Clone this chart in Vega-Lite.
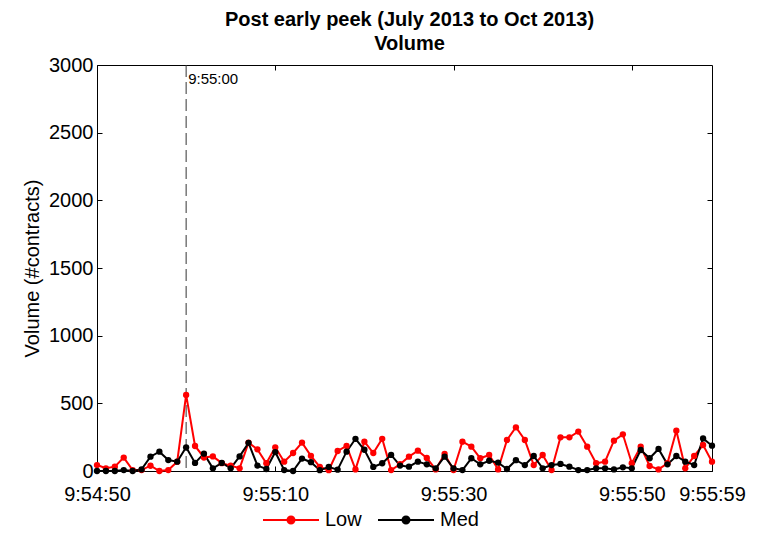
{
  "$schema": "https://vega.github.io/schema/vega-lite/v6.json",
  "width": 615,
  "height": 406,
  "autosize": "none",
  "padding": {"left": 97, "top": 65, "right": 47, "bottom": 62},
  "config": {
    "font": "Liberation Sans",
    "view": {"stroke": "black", "strokeWidth": 1},
    "axis": {"grid": false, "domainColor": "black", "tickColor": "black", "labelColor": "black", "titleColor": "black", "labelFontSize": 20, "titleFontSize": 20, "titleFontWeight": "normal"}
  },
  "title": {"text": ["Post early peek (July 2013 to Oct 2013)", "Volume"], "fontSize": 20, "fontWeight": "bold", "color": "black", "offset": 1, "lineHeight": 24, "anchor": "middle", "dx": 5},
  "datasets": {
    "vol": [
      {"t": "2013-07-01T09:54:50", "Low": 44, "Med": 0},
      {"t": "2013-07-01T09:54:51", "Low": 20, "Med": 0},
      {"t": "2013-07-01T09:54:52", "Low": 32, "Med": 0},
      {"t": "2013-07-01T09:54:53", "Low": 99, "Med": 7},
      {"t": "2013-07-01T09:54:54", "Low": 7, "Med": 0},
      {"t": "2013-07-01T09:54:55", "Low": 7, "Med": 12},
      {"t": "2013-07-01T09:54:56", "Low": 39, "Med": 106},
      {"t": "2013-07-01T09:54:57", "Low": 0, "Med": 143},
      {"t": "2013-07-01T09:54:58", "Low": 7, "Med": 81},
      {"t": "2013-07-01T09:54:59", "Low": 69, "Med": 69},
      {"t": "2013-07-01T09:55:00", "Low": 562, "Med": 175},
      {"t": "2013-07-01T09:55:01", "Low": 185, "Med": 60},
      {"t": "2013-07-01T09:55:02", "Low": 100, "Med": 128},
      {"t": "2013-07-01T09:55:03", "Low": 108, "Med": 20},
      {"t": "2013-07-01T09:55:04", "Low": 58, "Med": 60},
      {"t": "2013-07-01T09:55:05", "Low": 40, "Med": 20},
      {"t": "2013-07-01T09:55:06", "Low": 20, "Med": 108},
      {"t": "2013-07-01T09:55:07", "Low": 210, "Med": 208},
      {"t": "2013-07-01T09:55:08", "Low": 160, "Med": 40},
      {"t": "2013-07-01T09:55:09", "Low": 57, "Med": 15},
      {"t": "2013-07-01T09:55:10", "Low": 175, "Med": 140},
      {"t": "2013-07-01T09:55:11", "Low": 69, "Med": 7},
      {"t": "2013-07-01T09:55:12", "Low": 133, "Med": 0},
      {"t": "2013-07-01T09:55:13", "Low": 210, "Med": 92},
      {"t": "2013-07-01T09:55:14", "Low": 112, "Med": 65},
      {"t": "2013-07-01T09:55:15", "Low": 30, "Med": 6},
      {"t": "2013-07-01T09:55:16", "Low": 6, "Med": 30},
      {"t": "2013-07-01T09:55:17", "Low": 148, "Med": 10},
      {"t": "2013-07-01T09:55:18", "Low": 185, "Med": 143},
      {"t": "2013-07-01T09:55:19", "Low": 12, "Med": 238},
      {"t": "2013-07-01T09:55:20", "Low": 217, "Med": 157},
      {"t": "2013-07-01T09:55:21", "Low": 133, "Med": 30},
      {"t": "2013-07-01T09:55:22", "Low": 238, "Med": 57},
      {"t": "2013-07-01T09:55:23", "Low": 7, "Med": 119},
      {"t": "2013-07-01T09:55:24", "Low": 50, "Med": 40},
      {"t": "2013-07-01T09:55:25", "Low": 106, "Med": 32},
      {"t": "2013-07-01T09:55:26", "Low": 150, "Med": 69},
      {"t": "2013-07-01T09:55:27", "Low": 96, "Med": 49},
      {"t": "2013-07-01T09:55:28", "Low": 12, "Med": 20},
      {"t": "2013-07-01T09:55:29", "Low": 126, "Med": 106},
      {"t": "2013-07-01T09:55:30", "Low": 7, "Med": 20},
      {"t": "2013-07-01T09:55:31", "Low": 217, "Med": 7},
      {"t": "2013-07-01T09:55:32", "Low": 180, "Med": 94},
      {"t": "2013-07-01T09:55:33", "Low": 94, "Med": 49},
      {"t": "2013-07-01T09:55:34", "Low": 118, "Med": 76},
      {"t": "2013-07-01T09:55:35", "Low": 12, "Med": 62},
      {"t": "2013-07-01T09:55:36", "Low": 229, "Med": 15},
      {"t": "2013-07-01T09:55:37", "Low": 323, "Med": 80},
      {"t": "2013-07-01T09:55:38", "Low": 229, "Med": 44},
      {"t": "2013-07-01T09:55:39", "Low": 44, "Med": 111},
      {"t": "2013-07-01T09:55:40", "Low": 118, "Med": 20},
      {"t": "2013-07-01T09:55:41", "Low": 7, "Med": 44},
      {"t": "2013-07-01T09:55:42", "Low": 249, "Med": 52},
      {"t": "2013-07-01T09:55:43", "Low": 249, "Med": 32},
      {"t": "2013-07-01T09:55:44", "Low": 291, "Med": 7},
      {"t": "2013-07-01T09:55:45", "Low": 180, "Med": 7},
      {"t": "2013-07-01T09:55:46", "Low": 57, "Med": 20},
      {"t": "2013-07-01T09:55:47", "Low": 69, "Med": 20},
      {"t": "2013-07-01T09:55:48", "Low": 224, "Med": 12},
      {"t": "2013-07-01T09:55:49", "Low": 271, "Med": 27},
      {"t": "2013-07-01T09:55:50", "Low": 57, "Med": 20},
      {"t": "2013-07-01T09:55:51", "Low": 180, "Med": 155},
      {"t": "2013-07-01T09:55:52", "Low": 37, "Med": 94},
      {"t": "2013-07-01T09:55:53", "Low": 12, "Med": 163},
      {"t": "2013-07-01T09:55:54", "Low": 57, "Med": 49},
      {"t": "2013-07-01T09:55:55", "Low": 298, "Med": 111},
      {"t": "2013-07-01T09:55:56", "Low": 20, "Med": 69},
      {"t": "2013-07-01T09:55:57", "Low": 111, "Med": 44},
      {"t": "2013-07-01T09:55:58", "Low": 192, "Med": 241},
      {"t": "2013-07-01T09:55:59", "Low": 69, "Med": 187}
    ],
    "marker": [{"t": "2013-07-01T09:55:00", "label": "9:55:00"}]
  },
  "resolve": {"axis": {"x": "independent", "y": "independent"}},
  "layer": [
    {
      "data": {"name": "marker"},
      "mark": {"type": "rule", "strokeDash": [12, 5], "color": "#333333", "strokeWidth": 1},
      "encoding": {
        "x": {"field": "t", "type": "temporal",
          "scale": {"domain": [{"year": 2013, "month": 7, "date": 1, "hours": 9, "minutes": 54, "seconds": 50}, {"year": 2013, "month": 7, "date": 1, "hours": 9, "minutes": 55, "seconds": 59}], "nice": false},
          "axis": {"orient": "top", "labels": false, "title": null, "tickSize": -5, "domain": false,
            "values": [{"year": 2013, "month": 7, "date": 1, "hours": 9, "minutes": 55, "seconds": 10}, {"year": 2013, "month": 7, "date": 1, "hours": 9, "minutes": 55, "seconds": 30}, {"year": 2013, "month": 7, "date": 1, "hours": 9, "minutes": 55, "seconds": 50}]}}
      }
    },
    {
      "data": {"name": "marker"},
      "mark": {"type": "text", "align": "left", "baseline": "middle", "dx": 2, "fontSize": 15, "color": "black"},
      "encoding": {
        "x": {"field": "t", "type": "temporal", "axis": null},
        "y": {"datum": 2900, "type": "quantitative", "axis": {"orient": "right", "labels": false, "title": null, "tickSize": -5, "domain": false, "values": [500, 1000, 1500, 2000, 2500]}},
        "text": {"field": "label"}
      }
    },
    {
      "data": {"name": "vol"},
      "transform": [{"fold": ["Low", "Med"], "as": ["s", "v"]}],
      "mark": {"type": "line", "strokeWidth": 2, "point": {"filled": true, "size": 40}},
      "encoding": {
        "x": {"field": "t", "type": "temporal",
          "axis": {"orient": "bottom", "title": null, "format": "%-H:%M:%S", "tickSize": -5, "labelPadding": 18, "labelFlush": false, "labelOverlap": false,
            "values": [{"year": 2013, "month": 7, "date": 1, "hours": 9, "minutes": 54, "seconds": 50}, {"year": 2013, "month": 7, "date": 1, "hours": 9, "minutes": 55, "seconds": 10}, {"year": 2013, "month": 7, "date": 1, "hours": 9, "minutes": 55, "seconds": 30}, {"year": 2013, "month": 7, "date": 1, "hours": 9, "minutes": 55, "seconds": 50}, {"year": 2013, "month": 7, "date": 1, "hours": 9, "minutes": 55, "seconds": 59}]}},
        "y": {"field": "v", "type": "quantitative", "scale": {"domain": [0, 3000], "nice": false},
          "axis": {"orient": "left", "title": "Volume (#contracts)", "format": "d", "tickSize": -5, "labelPadding": 9, "titlePadding": 6, "values": [0, 500, 1000, 1500, 2000, 2500, 3000]}},
        "color": {"field": "s", "type": "nominal", "scale": {"domain": ["Low", "Med"], "range": ["#ff0000", "#000000"]},
          "legend": {"orient": "none", "legendX": 165, "legendY": 426, "direction": "horizontal", "title": null, "labelFontSize": 20, "labelColor": "black", "labelOffset": 5, "columnPadding": 12,
            "symbolType": "M-1,0H1M0.125,0A0.125,0.125,0,1,1,-0.125,0A0.125,0.125,0,1,1,0.125,0Z", "symbolSize": 3136, "symbolStrokeWidth": 2,
            "encode": {"symbols": {"update": {"fill": {"scale": "color", "field": "value"}}}}}}
      }
    }
  ]
}
